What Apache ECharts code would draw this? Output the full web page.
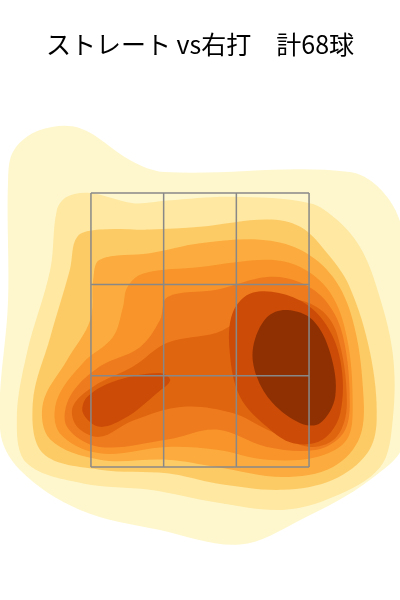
<!DOCTYPE html>
<html>
<head>
<meta charset="utf-8">
<script src="https://cdn.jsdelivr.net/npm/echarts@6/dist/echarts.min.js"></script>
<style>html,body{margin:0;padding:0;background:#fff}#main{width:400px;height:600px}</style>
</head>
<body>
<div id="main"></div>
<script>
"use strict";

// units: strike zone columns/rows = 1, zone spans x -1.5..1.5, y 0..3
var titleText = "ストレート vs右打　計68球";
var zoneX = [-1.5, -0.5, 0.5, 1.5];
var zoneY = [0, 1, 2, 3];

var levelColors = ["#fef7cd", "#fee8a2", "#fdcb66", "#fcac3e", "#f8942a", "#ee7b1e", "#e0650f", "#cc4c07", "#cc4c07", "#8f3003"];

var level1 = [[-2.56,3.47],[-2.20,3.69],[-1.65,3.71],[-0.96,3.36],[-0.48,3.23],[2.06,3.23],[2.61,2.92],[2.82,2.38],[2.82,0.30],[2.34,-0.14],[1.38,-0.58],[0.55,-0.85],[-0.55,-0.69],[-1.65,-0.47],[-2.48,-0.03],[-2.75,0.41],[-2.64,1.83],[-2.64,3.14]];
var level2 = [[-1.83,2.96],[-1.51,3.00],[-0.92,2.89],[-0.45,2.92],[0.45,2.96],[1.51,2.89],[1.88,2.71],[2.20,2.41],[2.43,1.97],[2.65,1.25],[2.65,0.51],[2.48,0],[1.83,-0.33],[1.14,-0.47],[0.23,-0.39],[-0.69,-0.25],[-1.61,-0.18],[-2.38,0.04],[-2.52,0.51],[-2.38,1.25],[-2.06,2.16],[-1.97,2.81]];
var level3 = [[-1.69,2.52],[-1.38,2.60],[-0.69,2.60],[0,2.63],[0.92,2.71],[1.38,2.63],[1.75,2.34],[2.06,1.97],[2.34,1.25],[2.43,0.51],[2.30,0.15],[1.83,-0.14],[1.14,-0.25],[0.23,-0.18],[-0.45,-0.07],[-1.38,-0.03],[-2.16,0.15],[-2.30,0.70],[-2.06,1.42],[-1.79,2.16]];
var level4 = [[-1.38,2.27],[-0.69,2.34],[0,2.45],[0.83,2.49],[1.38,2.38],[1.83,2.08],[2.10,1.61],[2.24,0.88],[2.20,0.33],[1.83,0],[1.14,-0.11],[0.23,0],[-0.45,0.08],[-1.38,0.08],[-2.06,0.30],[-2.16,0.70],[-1.83,1.17],[-1.51,1.61],[-1.47,2.05]];
var level5 = [[-1.00,1.97],[-0.78,2.12],[0,2.19],[0.92,2.27],[1.38,2.19],[1.79,1.91],[2.02,1.42],[2.10,0.70],[2.02,0.30],[1.61,0.11],[0.92,0.08],[0.23,0.19],[-0.45,0.22],[-1.38,0.15],[-1.93,0.37],[-1.97,0.73],[-1.61,1.14],[-1.20,1.42],[-1.06,1.75]];
var level6 = [[-0.45,1.86],[0.23,1.94],[0.92,2.08],[1.38,2.02],[1.75,1.80],[1.97,1.42],[2.06,0.70],[1.97,0.37],[1.61,0.19],[0.92,0.22],[0.23,0.41],[-0.45,0.30],[-1.38,0.22],[-1.83,0.44],[-1.79,0.77],[-1.38,1.10],[-0.83,1.31],[-0.55,1.61]];
var level7 = [[-0.45,1.36],[0.23,1.47],[0.55,1.61],[1.14,1.83],[1.61,1.75],[1.88,1.47],[2.02,0.70],[1.88,0.33],[1.51,0.22],[0.92,0.41],[0.45,0.59],[-0.23,0.66],[-0.92,0.51],[-1.38,0.33],[-1.69,0.44],[-1.75,0.66],[-1.47,0.88],[-0.92,1.10]];
var level8a = [[0.73,1.91],[1.28,1.86],[1.69,1.61],[1.93,1.17],[1.93,0.59],[1.69,0.30],[1.28,0.26],[0.92,0.44],[0.55,0.77],[0.41,1.25],[0.45,1.69]];
var level8b = [[-1.55,0.77],[-1.14,0.95],[-0.55,1.03],[-0.41,0.95],[-0.59,0.81],[-1.00,0.55],[-1.38,0.44],[-1.61,0.59]];
var level9 = [[1.20,1.72],[1.55,1.61],[1.79,1.25],[1.86,0.77],[1.65,0.48],[1.38,0.48],[1.00,0.70],[0.78,0.99],[0.73,1.31],[0.92,1.64]];

var rings = [level1, level2, level3, level4, level5, level6, level7, level8a, level8b, level9];

var zoneLines = [];
zoneX.forEach(function (x) { zoneLines.push([[x, zoneY[0]], [x, zoneY[zoneY.length - 1]]]); });
zoneY.forEach(function (y) { zoneLines.push([[zoneX[0], y], [zoneX[zoneX.length - 1], y]]); });

var chart = echarts.init(document.getElementById("main"));
chart.setOption({
  animation: false,
  title: {
    text: titleText, left: "center", top: 27,
    textStyle: { fontSize: 25, fontWeight: "normal", color: "#000", fontFamily: "Noto Sans CJK JP" }
  },
  grid: { left: 0, right: 0, top: 0, bottom: 0 },
  xAxis: { type: "value", min: -2.751, max: 2.751, show: false },
  yAxis: { type: "value", min: -1.457, max: 5.115, show: false },
  series: [{
    type: "custom",
    data: rings.map(function (r, i) { return [i]; }),
    renderItem: function (params, api) {
      var i = api.value(0);
      return {
        type: "polygon",
        shape: { points: rings[i].map(function (p) { return api.coord(p); }), smooth: 0.35 },
        style: { fill: levelColors[i] }
      };
    }
  }, {
    type: "custom",
    data: zoneLines.map(function (l, i) { return [i]; }),
    z: 5,
    renderItem: function (params, api) {
      var l = zoneLines[api.value(0)];
      var a = api.coord(l[0]), b = api.coord(l[1]);
      return {
        type: "line",
        shape: { x1: a[0], y1: a[1], x2: b[0], y2: b[1] },
        style: { stroke: "#888", lineWidth: 1.5 }
      };
    }
  }]
});
</script>
</body>
</html>
